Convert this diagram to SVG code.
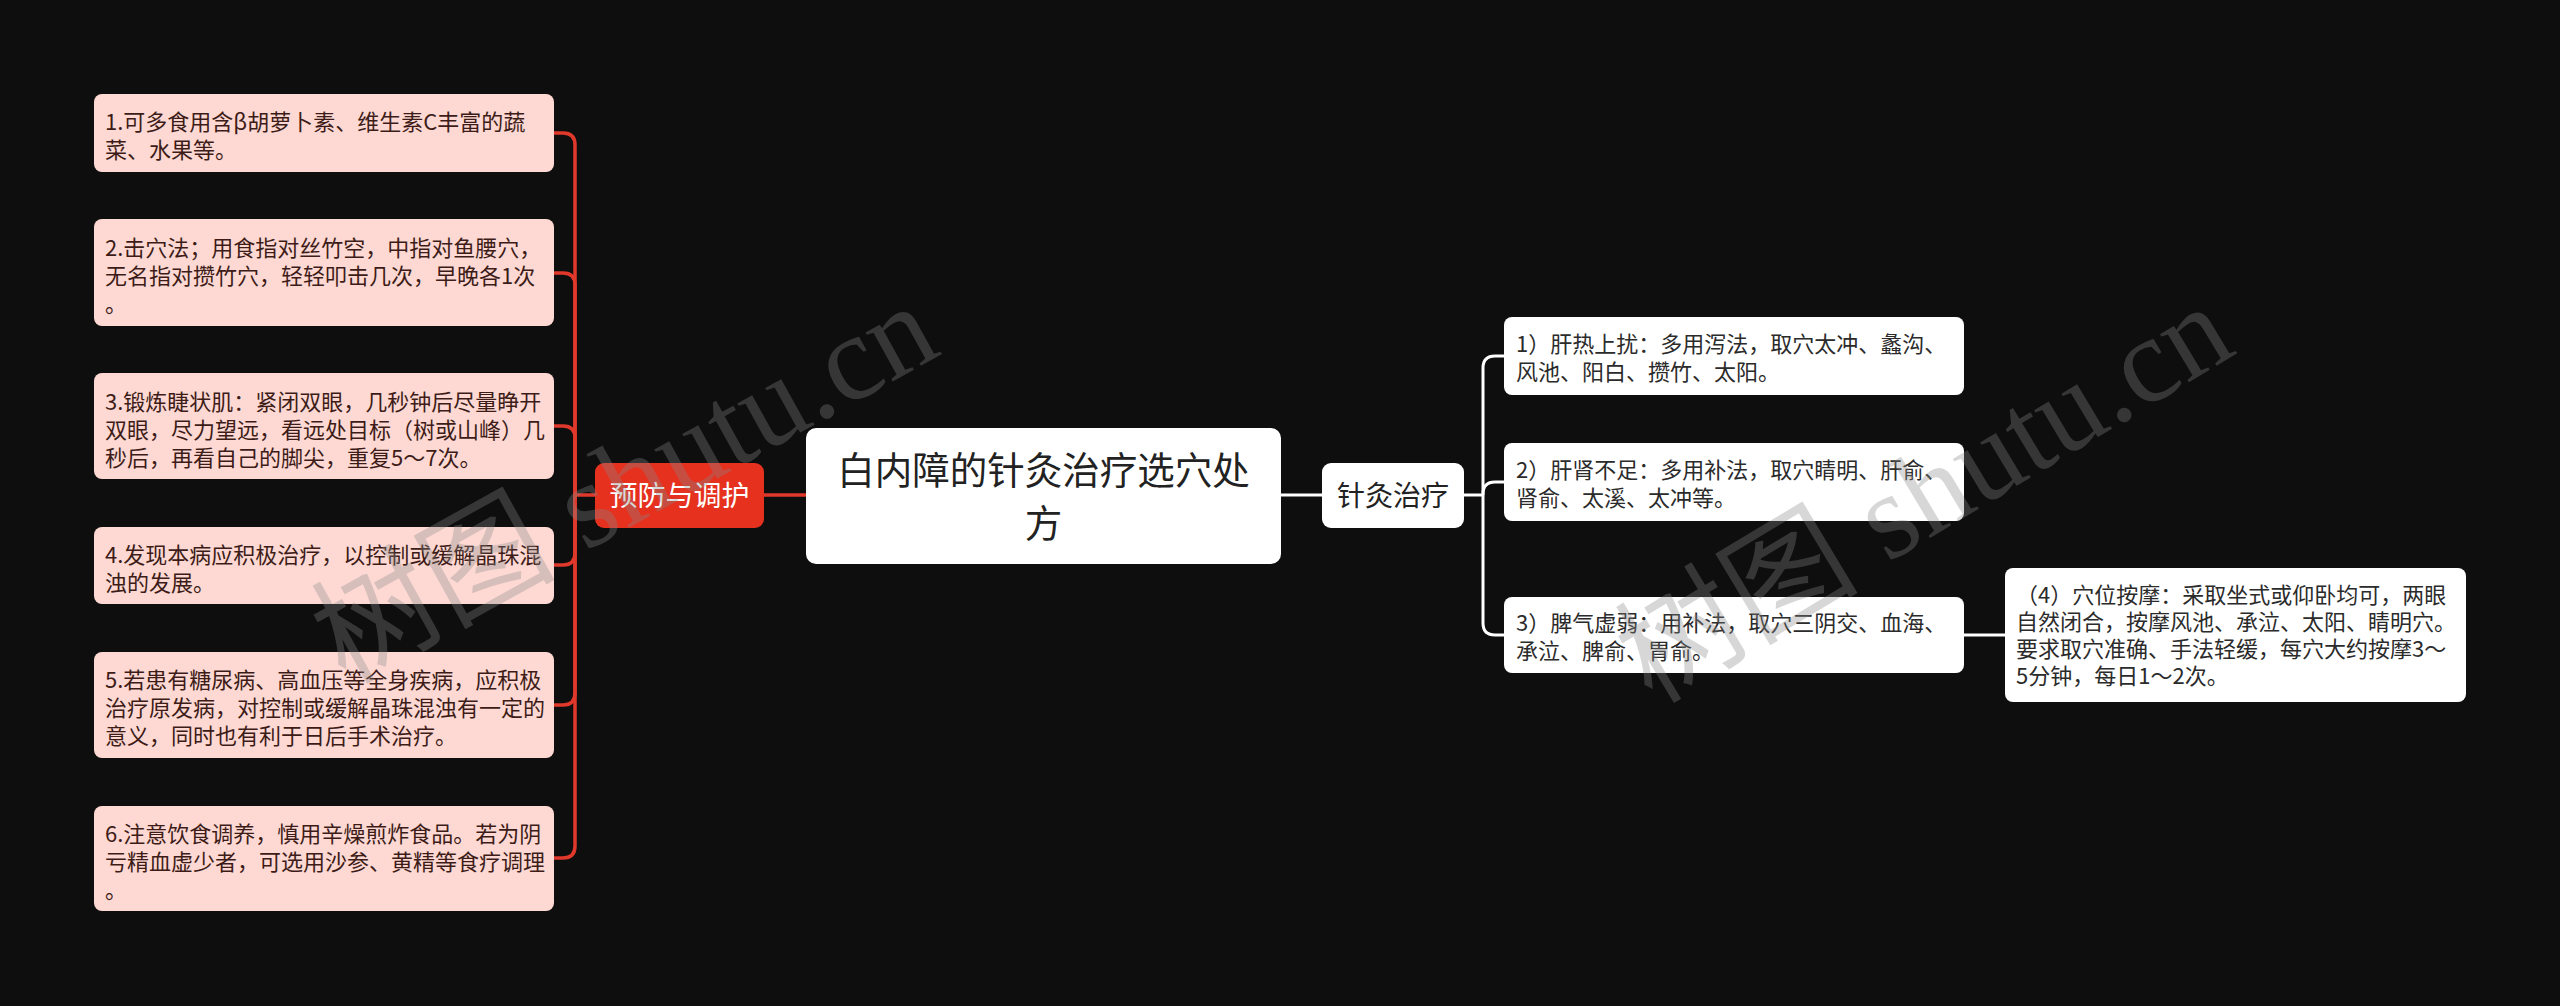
<svg xmlns="http://www.w3.org/2000/svg" width="2560" height="1006" viewBox="0 0 2560 1006">
<style>
.bg{fill:#0e0e0e}
.lbox{fill:#fed9d3}
.ltxt{font-family:"Noto Sans CJK SC","Noto Sans",sans-serif;font-size:22px;fill:#3d1c18}
.wbox{fill:#ffffff}
.rtxt{font-family:"Noto Sans CJK SC","Noto Sans",sans-serif;font-size:22px;fill:#2b2b2b}
.red{fill:#e5311e}
.main{font-family:"Noto Sans CJK SC","Noto Sans",sans-serif;font-size:28px;text-anchor:middle}
.root{font-family:"Noto Sans CJK SC","Noto Sans",sans-serif;font-size:37.5px;fill:#222;text-anchor:middle}
.cr{fill:none;stroke:#e0392b;stroke-width:3.5}
.cw{fill:none;stroke:#ffffff;stroke-width:3}
.wm{font-family:"Liberation Serif","Noto Sans CJK SC",serif;font-size:122px;fill:#888;opacity:0.33}
</style>
<rect class="bg" x="0" y="0" width="2560" height="1006"/>

<g id="connectors">
  <path class="cr" d="M806 495 H764"/>
  <path class="cr" d="M595 495 H575"/>
  <path class="cr" d="M575 495 V145 Q575 133 563 133 H554"/>
  <path class="cr" d="M575 495 V285 Q575 273 563 273 H554"/>
  <path class="cr" d="M575 495 V438 Q575 426 563 426 H554"/>
  <path class="cr" d="M575 495 V553 Q575 565 563 565 H554"/>
  <path class="cr" d="M575 495 V693 Q575 705 563 705 H554"/>
  <path class="cr" d="M575 495 V846 Q575 858 563 858 H554"/>
  <path class="cw" d="M1281 495 H1322"/>
  <path class="cw" d="M1464 495 H1483"/>
  <path class="cw" d="M1483 495 V368 Q1483 356 1495 356 H1504"/>
  <path class="cw" d="M1483 495 V494 Q1483 482 1495 482 H1504"/>
  <path class="cw" d="M1483 495 V623 Q1483 635 1495 635 H1504"/>
  <path class="cw" d="M1964 635 H2005"/>
</g>

<g id="root">
  <rect class="wbox" x="806" y="428" width="475" height="136" rx="10"/>
  <text class="root" x="1043.5" y="484">白内障的针灸治疗选穴处</text>
  <text class="root" x="1043.5" y="537">方</text>
</g>

<g id="n-yufang">
  <rect class="red" x="595" y="463" width="169" height="65" rx="9"/>
  <text class="main" x="679.5" y="506" fill="#ffffff">预防与调护</text>
</g>

<g id="n-l1">
  <rect class="lbox" x="94" y="94" width="460" height="78" rx="8"/>
  <text class="ltxt" x="105" y="130">1.可多食用含β胡萝卜素、维生素C丰富的蔬</text>
  <text class="ltxt" x="105" y="158">菜、水果等。</text>
</g>
<g id="n-l2">
  <rect class="lbox" x="94" y="219" width="460" height="107" rx="8"/>
  <text class="ltxt" x="105" y="256">2.击穴法；用食指对丝竹空，中指对鱼腰穴，</text>
  <text class="ltxt" x="105" y="284">无名指对攒竹穴，轻轻叩击几次，早晚各1次</text>
  <text class="ltxt" x="105" y="312">。</text>
</g>
<g id="n-l3">
  <rect class="lbox" x="94" y="373" width="460" height="106" rx="8"/>
  <text class="ltxt" x="105" y="410">3.锻炼睫状肌：紧闭双眼，几秒钟后尽量睁开</text>
  <text class="ltxt" x="105" y="438">双眼，尽力望远，看远处目标（树或山峰）几</text>
  <text class="ltxt" x="105" y="466">秒后，再看自己的脚尖，重复5～7次。</text>
</g>
<g id="n-l4">
  <rect class="lbox" x="94" y="527" width="460" height="77" rx="8"/>
  <text class="ltxt" x="105" y="563">4.发现本病应积极治疗，以控制或缓解晶珠混</text>
  <text class="ltxt" x="105" y="591">浊的发展。</text>
</g>
<g id="n-l5">
  <rect class="lbox" x="94" y="652" width="460" height="106" rx="8"/>
  <text class="ltxt" x="105" y="688">5.若患有糖尿病、高血压等全身疾病，应积极</text>
  <text class="ltxt" x="105" y="716">治疗原发病，对控制或缓解晶珠混浊有一定的</text>
  <text class="ltxt" x="105" y="744">意义，同时也有利于日后手术治疗。</text>
</g>
<g id="n-l6">
  <rect class="lbox" x="94" y="806" width="460" height="105" rx="8"/>
  <text class="ltxt" x="105" y="842">6.注意饮食调养，慎用辛燥煎炸食品。若为阴</text>
  <text class="ltxt" x="105" y="870">亏精血虚少者，可选用沙参、黄精等食疗调理</text>
  <text class="ltxt" x="105" y="898">。</text>
</g>

<g id="n-zhenjiu">
  <rect class="wbox" x="1322" y="463" width="142" height="65" rx="9"/>
  <text class="main" x="1393" y="506" fill="#222222">针灸治疗</text>
</g>

<g id="n-r1">
  <rect class="wbox" x="1504" y="317" width="460" height="78" rx="8"/>
  <text class="rtxt" x="1516" y="352">1）肝热上扰：多用泻法，取穴太冲、蠡沟、</text>
  <text class="rtxt" x="1516" y="380">风池、阳白、攒竹、太阳。</text>
</g>
<g id="n-r2">
  <rect class="wbox" x="1504" y="443" width="460" height="78" rx="8"/>
  <text class="rtxt" x="1516" y="478">2）肝肾不足：多用补法，取穴睛明、肝俞、</text>
  <text class="rtxt" x="1516" y="506">肾俞、太溪、太冲等。</text>
</g>
<g id="n-r3">
  <rect class="wbox" x="1504" y="597" width="460" height="76" rx="8"/>
  <text class="rtxt" x="1516" y="631">3）脾气虚弱：用补法，取穴三阴交、血海、</text>
  <text class="rtxt" x="1516" y="659">承泣、脾俞、胃俞。</text>
</g>
<g id="n-r4">
  <rect class="wbox" x="2005" y="568" width="461" height="134" rx="8"/>
  <text class="rtxt" x="2016" y="603">（4）穴位按摩：采取坐式或仰卧均可，两眼</text>
  <text class="rtxt" x="2016" y="630">自然闭合，按摩风池、承泣、太阳、睛明穴。</text>
  <text class="rtxt" x="2016" y="657">要求取穴准确、手法轻缓，每穴大约按摩3～</text>
  <text class="rtxt" x="2016" y="684">5分钟，每日1～2次。</text>
</g>

<g id="watermarks">
  <text class="wm" transform="translate(345 685) rotate(-29)">树图 shutu.cn</text>
  <text class="wm" transform="translate(1652 705) rotate(-31)">树图 shutu.cn</text>
</g>
</svg>
